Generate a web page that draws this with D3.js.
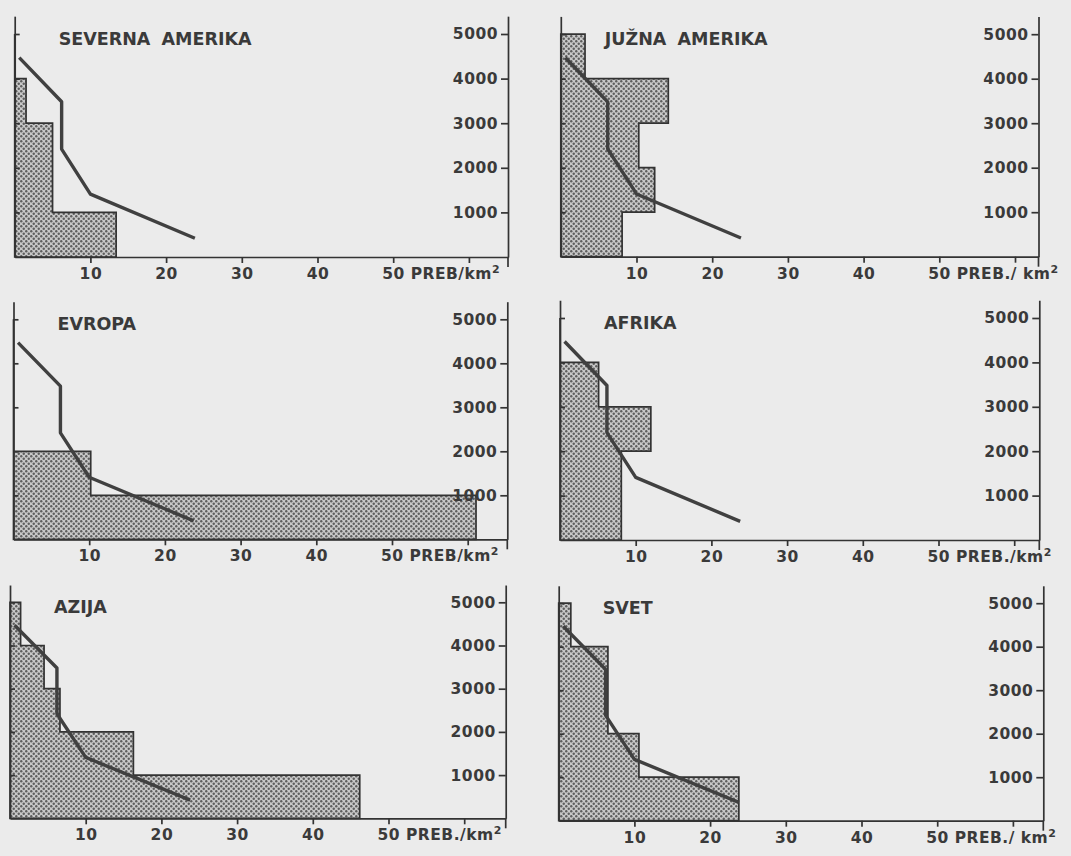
<!DOCTYPE html>
<html>
<head>
<meta charset="utf-8">
<script src="https://cdn.jsdelivr.net/npm/d3@7"></script>
<style>
body { margin: 0; background: #ebebeb; }
svg { display: block; }
.axis path, .axis line { stroke: #333; stroke-width: 1.7; }
.axis text, .unit { font-family: "DejaVu Sans", sans-serif; font-size: 15.5px; font-weight: bold; fill: #3a3a3a; letter-spacing: 0.5px; }
.title { font-family: "DejaVu Sans", sans-serif; font-size: 17.5px; font-weight: bold; fill: #3a3a3a; word-spacing: 5px; }
</style>
</head>
<body>
<div id="chart"></div>
<script>
// population density (PREB./km2) by elevation band, 0-1000 ... 4000-5000 m
const regions = ["SEVERNA AMERIKA", "JUŽNA AMERIKA", "EVROPA", "AFRIKA", "AZIJA", "SVET"];
const bandEdges = [0, 1000, 2000, 3000, 4000, 5000];
const severnaAmerika = [13.4, 5, 5, 1.5, 0];
const juznaAmerika = [8.1, 12.4, 10.3, 14.2, 3.2];
const evropa = [61.1, 10.2, 0, 0, 0];
const afrika = [8.1, 8.1, 12.0, 5.1, 0];
const azija = [46.2, 16.3, 6.6, 4.5, 1.4];
const svet = [23.8, 10.6, 6.5, 6.5, 1.6];
const bands = [severnaAmerika, juznaAmerika, evropa, afrika, azija, svet];

// the same curve is drawn in every panel: [density, elevation]
const worldLine = [[0.6, 4470], [6.2, 3480], [6.2, 2420], [10, 1410], [23.8, 420]];

const yTicks = [1000, 2000, 3000, 4000, 5000];
const xTicks = [10, 20, 30, 40, 50, 60];
const unitLabels = ["PREB/km", "PREB./ km", "PREB/km", "PREB./km", "PREB./km", "PREB./ km"];

// where each panel sits on the page (pixel of density 0, right axis, 0 m, height of 5000 m)
const layout = [
  {left: 14.7, right: 508, bottom: 257, h: 223},
  {left: 560.8, right: 1038.5, bottom: 256.7, h: 222.5},
  {left: 13.5, right: 507.3, bottom: 539.3, h: 220},
  {left: 560, right: 1039.3, bottom: 540, h: 222},
  {left: 10, right: 505.7, bottom: 818.3, h: 216},
  {left: 558.7, right: 1043.3, bottom: 820.7, h: 217.5}
];
const pxPerUnit = 7.57;

const svg = d3.select("#chart").append("svg")
  .attr("width", 1071)
  .attr("height", 856);

// stipple fill
const pat = svg.append("defs").append("pattern")
  .attr("id", "dots")
  .attr("patternUnits", "userSpaceOnUse")
  .attr("width", 5).attr("height", 5);
pat.append("rect").attr("width", 5).attr("height", 5).attr("fill", "#c8c8c8");
pat.append("circle").attr("cx", 1.25).attr("cy", 1.25).attr("r", 1.2).attr("fill", "#5e5e5e");
pat.append("circle").attr("cx", 3.75).attr("cy", 3.75).attr("r", 1.2).attr("fill", "#5e5e5e");

regions.forEach((name, i) => {
  const L = layout[i];
  const xMax = (L.right - L.left) / pxPerUnit;
  const x = d3.scaleLinear().domain([0, xMax]).range([L.left, L.right]);
  const y = d3.scaleLinear().domain([0, 5400]).range([L.bottom, L.bottom - L.h * 1.08]);
  const g = svg.append("g");

  // step outline of the bands
  const pts = [];
  bands[i].forEach((v, k) => {
    pts.push([v, bandEdges[k]]);
    pts.push([v, bandEdges[k + 1]]);
  });
  const area = d3.area()
    .y(d => y(d[1]))
    .x0(x(0))
    .x1(d => x(d[0]));
  g.append("path")
    .datum(pts)
    .attr("d", area)
    .attr("fill", "url(#dots)")
    .attr("stroke", "#333")
    .attr("stroke-width", 1.7);

  // curve
  const line = d3.line().x(d => x(d[0])).y(d => y(d[1]));
  g.append("path")
    .datum(worldLine)
    .attr("d", line)
    .attr("fill", "none")
    .attr("stroke", "#404040")
    .attr("stroke-width", 3.4)
    .attr("stroke-linejoin", "round");

  // left axis, ticks only
  g.append("g")
    .attr("class", "axis")
    .attr("transform", `translate(${x(0)},0)`)
    .call(d3.axisRight(y).tickValues(yTicks).tickSize(5).tickSizeOuter(0).tickFormat(""));

  // right axis with labels
  g.append("g")
    .attr("class", "axis")
    .attr("transform", `translate(${L.right},0)`)
    .call(d3.axisLeft(y).tickValues(yTicks).tickSize(7).tickPadding(3).tickSizeOuter(0)
      .tickFormat(d3.format("d")));
  g.append("line")
    .attr("x1", L.right).attr("x2", L.right)
    .attr("y1", L.bottom).attr("y2", L.bottom + 10)
    .attr("stroke", "#333").attr("stroke-width", 1.7);

  // bottom axis
  g.append("g")
    .attr("class", "axis")
    .attr("transform", `translate(0,${L.bottom})`)
    .call(d3.axisBottom(x).tickValues(xTicks).tickSize(6).tickPadding(5).tickSizeOuter(0)
      .tickFormat(d => (d >= 50 ? "" : d)));

  const unit = g.append("text")
    .attr("class", "unit")
    .attr("x", x(50) - 11)
    .attr("y", L.bottom + 11)
    .attr("dy", "0.71em");
  unit.append("tspan").text("50 " + unitLabels[i]);
  unit.append("tspan").attr("dy", -6).attr("font-size", 11).text("2");

  g.append("text")
    .attr("class", "title")
    .attr("x", x(0) + 44)
    .attr("y", y(4750))
    .text(name);
});
</script>
</body>
</html>
